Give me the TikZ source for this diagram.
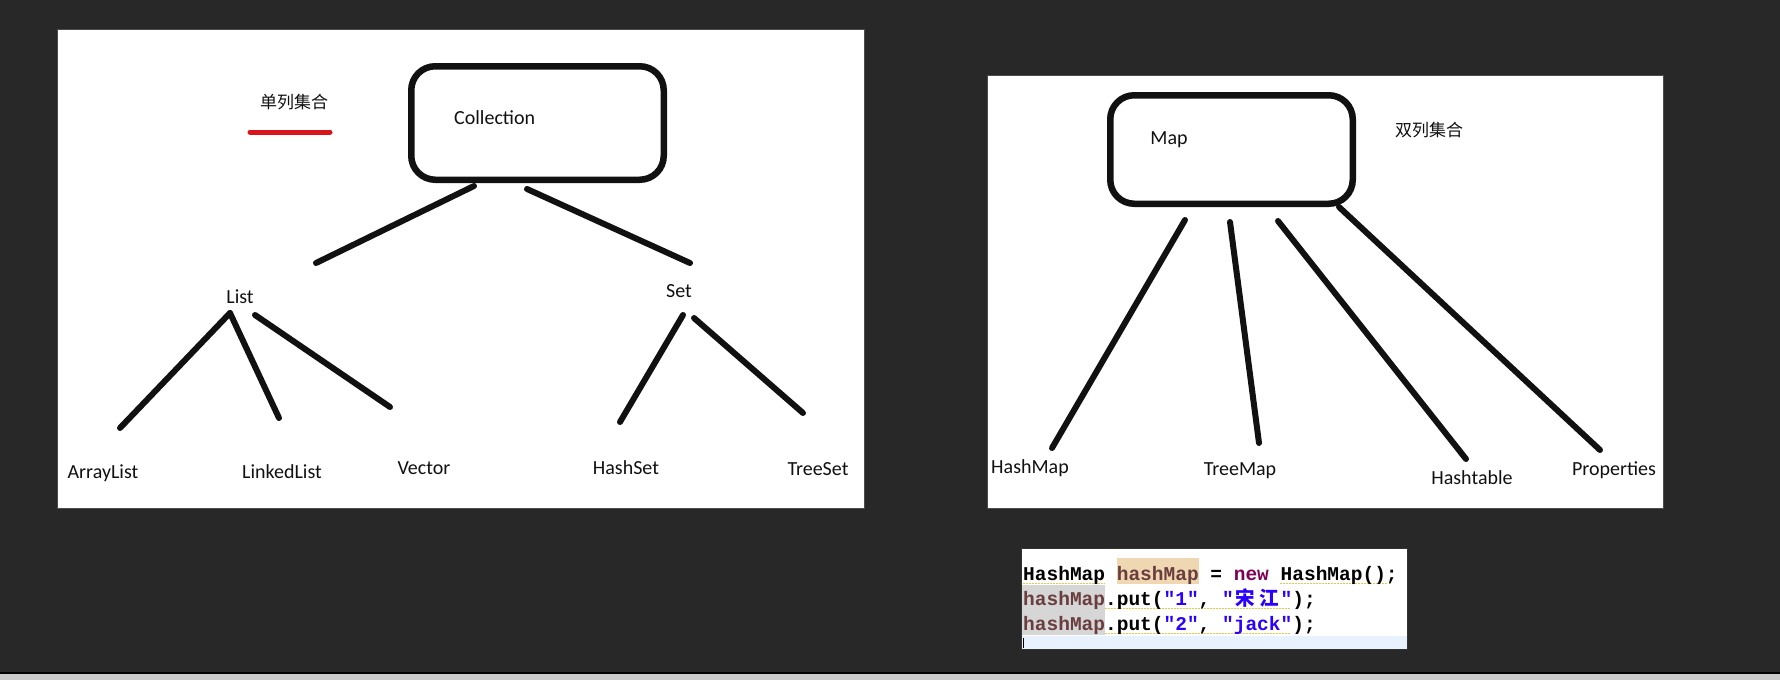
\documentclass[tikz,border=0pt]{standalone}
\usepackage{fontspec}
\setmainfont{Carlito}
\newfontfamily\cjk{Noto Sans CJK SC}
\newfontfamily\codefont{Liberation Mono}
\definecolor{board}{HTML}{282828}
\definecolor{strip}{HTML}{C9C9C9}
\definecolor{inkc}{HTML}{111111}
\definecolor{redline}{HTML}{D8141C}
\definecolor{varc}{HTML}{6A3E3E}
\definecolor{kwc}{HTML}{7F0055}
\definecolor{strc}{HTML}{2A00FF}
\definecolor{tanbg}{HTML}{EFD7B2}
\definecolor{graybg}{HTML}{D6D6D6}
\definecolor{curline}{HTML}{E8F2FE}
\definecolor{warn}{HTML}{E8C84A}
\tikzset{
  panel/.style={fill=white, draw=black!70, line width=0.8pt},
  bigbox/.style={draw=inkc, line width=6.5pt, rounded corners=24pt, fill=white},
  stroke/.style={draw=inkc, line width=6pt, line cap=round},
  lbl/.style={inner sep=0pt, text=inkc, font=\fontsize{20}{24}\selectfont},
  cn/.style={inner sep=0pt, text=inkc, font=\cjk\fontsize{17}{20}\selectfont},
  codeline/.style={anchor=base west, inner sep=0pt, font=\codefont\bfseries\fontsize{19.5}{25}\selectfont},
  warnline/.style={draw=warn, line width=1pt, dash pattern=on 1.5pt off 1.5pt}
}
\newcommand{\cjkc}[1]{\makebox[23.4pt]{\cjk\fontsize{19.5}{25}\selectfont #1}}
\begin{document}
\begin{tikzpicture}[x=1pt, y=-1pt]
\useasboundingbox (0,0) rectangle (1780,680);
% background
\fill[board] (0,0) rectangle (1780,672);
\fill[black] (0,672) rectangle (1780,673.5);
\fill[strip] (0,673.5) rectangle (1780,680);

% ---------------- left panel ----------------
\path[panel] (57,29) rectangle (864,508);
\path[bigbox] (411.25,66.25) rectangle (663.75,179.75);
\node[lbl, anchor=west] (coll) at (454,118) {Collection};
\node[cn] (single) at (294,102) {单列集合};
\coordinate (ra) at (250,132);
\coordinate (rb) at (330,132);
\draw[draw=redline, line width=5pt, line cap=round] (ra) -- (rb);

\node[lbl] (list) at (240,297) {List};
\node[lbl] (set) at (679,291) {Set};
\node[lbl] (arraylist) at (103,473) {ArrayList};
\node[lbl] (linkedlist) at (282,472) {LinkedList};
\node[lbl] (vector) at (424,468) {Vector};
\node[lbl] (hashset) at (626,468) {HashSet};
\node[lbl] (treeset) at (818,469) {TreeSet};

\coordinate (c1a) at (474,186); \coordinate (c1b) at (316,263);
\coordinate (c2a) at (527,189); \coordinate (c2b) at (690,263);
\coordinate (l1a) at (230,313); \coordinate (l1b) at (120,428);
\coordinate (l2b) at (279,418);
\coordinate (l3a) at (255,315); \coordinate (l3b) at (390,407);
\coordinate (s1a) at (683,315); \coordinate (s1b) at (620,422);
\coordinate (s2a) at (694,318); \coordinate (s2b) at (803,413);
\draw[stroke] (c1a) -- (c1b);
\draw[stroke] (c2a) -- (c2b);
\draw[stroke] (l1a) -- (l1b);
\draw[stroke] (l1a) -- (l2b);
\draw[stroke] (l3a) -- (l3b);
\draw[stroke] (s1a) -- (s1b);
\draw[stroke] (s2a) -- (s2b);

% ---------------- right panel ----------------
\path[panel] (987,75) rectangle (1663,508);
\path[bigbox] (1110.25,95.25) rectangle (1352.75,203.75);
\node[lbl] (map) at (1169,140) {Map};
\node[cn] (double) at (1429,130) {双列集合};
\node[lbl] (hashmap) at (1030,468) {HashMap};
\node[lbl] (treemap) at (1240,471) {TreeMap};
\node[lbl] (hashtable) at (1472,478) {Hashtable};
\node[lbl] (properties) at (1614,470) {Properties};

\coordinate (m1a) at (1185,220); \coordinate (m1b) at (1052,448);
\coordinate (m2a) at (1230,222); \coordinate (m2b) at (1259,443);
\coordinate (m3a) at (1278,221); \coordinate (m3b) at (1466,459);
\coordinate (m4a) at (1339,207); \coordinate (m4b) at (1600,450);
\draw[stroke] (m1a) -- (m1b);
\draw[stroke] (m2a) -- (m2b);
\draw[stroke] (m3a) -- (m3b);
\draw[stroke] (m4a) -- (m4b);

% ---------------- code snippet ----------------
\path[fill=white, draw=black!80, line width=1pt] (1021,548) rectangle (1407,649);
\fill[curline] (1021.5,636) rectangle (1406.5,648.5);
\fill[tanbg] (1116.6,558) rectangle (1198.5,584);
\fill[graybg] (1022,585) rectangle (1105,635);
\draw[warnline] (1023,583) -- (1105,583);
\draw[warnline] (1280,583) -- (1388,583);
\draw[warnline] (1105,608) -- (1290,608);
\draw[warnline] (1105,633) -- (1290,633);
\node[codeline] (code1) at (1023,580) {HashMap \textcolor{varc}{hashMap} = \textcolor{kwc}{new} HashMap();};
\node[codeline] (code2) at (1023,605) {\textcolor{varc}{hashMap}.put(\textcolor{strc}{"1"}, \textcolor{strc}{"\cjkc{宋}\cjkc{江}"});};
\node[codeline] (code3) at (1023,630) {\textcolor{varc}{hashMap}.put(\textcolor{strc}{"2"}, \textcolor{strc}{"jack"});};
\coordinate (cura) at (1023.5,638); \coordinate (curb) at (1023.5,648);
\draw[black, line width=1.5pt] (cura) -- (curb);
\end{tikzpicture}
\end{document}
